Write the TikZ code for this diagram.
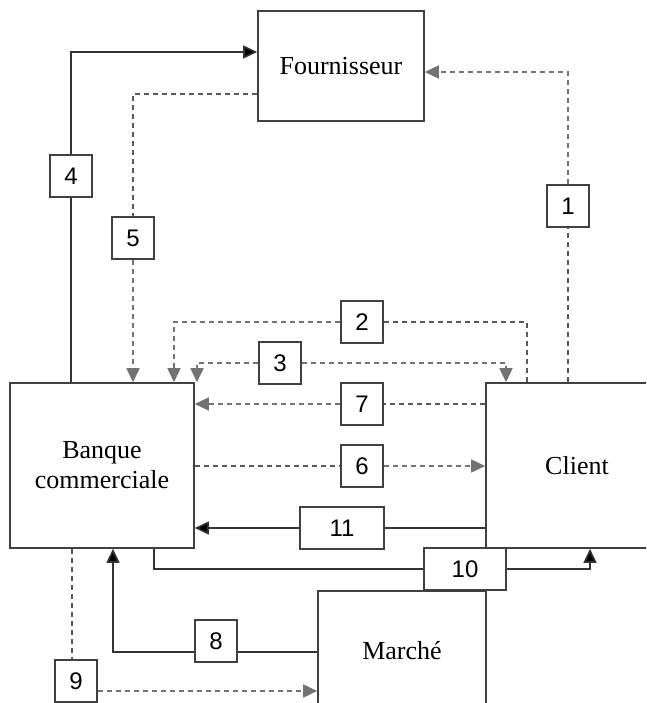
\documentclass[tikz,border=0pt]{standalone}
\usepackage{fontspec}
\setmainfont{Liberation Serif}
\newfontfamily\digitfont{Liberation Sans}
\usetikzlibrary{calc,arrows.meta}
\tikzset {>={Triangle[length=14pt,width=13pt]}}
\tikzset{
  acteur/.style={draw=black!75,line width=1.6pt,align=center,
    font=\fontsize{26}{30}\selectfont},
  numero/.style={draw=black!75,line width=1.6pt,fill=white,
    minimum width=42pt,minimum height=42pt,inner sep=0pt,
    font=\digitfont\fontsize{24}{28}\selectfont},
  sline/.style={black!80,line width=1.6pt,
    -{Triangle[length=14pt,width=13pt,fill=black]}},
  dline/.style={black!65,line width=1.6pt,dash pattern=on 5pt off 4pt},
  darrow/.style={dline,->,black!55}
}

\begin{document}
\begin{tikzpicture}[x=1pt,y=-1pt]
\useasboundingbox (0,0) rectangle (646,703);
\begin{scope}
\clip (0,0) rectangle (646,703);
\node[acteur] (four)
  [minimum width=166pt,minimum height=110pt]
  at (341,66) {Fournisseur};
\node[acteur] (banque)
  [minimum width=184pt,minimum height=165pt]
  at (102,465.5) {Banque\\commerciale};
\node[acteur] (client)
  [minimum width=182pt,minimum height=165pt]
  at (577,465.5) {Client};
\node[acteur] (marche)
  [minimum width=168pt,minimum height=120pt]
  at (402,651) {Marché};
\end{scope}
\node[numero] (n1) at (568,206) {1};
\node[numero] (n2) at (362,322) {2};
\node[numero] (n3) at (280,363) {3};
\node[numero] (n4) at (71,176) {4};
\node[numero] (n5) at (133,238) {5};
\node[numero] (n6) at (362,466) {6};
\node[numero] (n7) at (362,404) {7};
\node[numero] (n8) at (216,641) {8};
\node[numero] (n9) at (76,681) {9};
\node[numero,minimum width=82pt] (n10) at (465,569) {10};
\node[numero,minimum width=84pt] (n11) at (342,528) {11};
\coordinate (k2a) at (527,322);
\coordinate (k2b) at (174,322);
\coordinate (k3a) at (197,363);
\coordinate (k3b) at (506,363);
\coordinate (k8) at (113,652);
\coordinate (k9) at (72,691);
\coordinate (k10a) at (154,569);
\coordinate (k10b) at (590,569);
\draw[dline] (client.north -| n1) -- (n1);
\draw[darrow] (n1) |- ([yshift=-6pt]four.east);
\draw[dline] (client.north -| k2a) -- (k2a) -- (n2);
\draw[darrow] (n2) -- (k2b) -- (banque.north -| k2b);
\draw[darrow] (n3) -- (k3a) -- (banque.north -| k3a);
\draw[darrow] (n3) -- (k3b) -- (client.north -| k3b);
\draw[sline,-] (banque.north -| n4) -- (n4);
\draw[sline] (n4) |- ([yshift=14pt]four.west);
\draw[dline] ([yshift=-28pt]four.west) -| (n5);
\draw[darrow] (n5) -- (banque.north -| n5);
\draw[dline] (banque.east |- n6) -- (n6);
\draw[darrow] (n6) -- (client.west |- n6);
\draw[dline] (client.west |- n7) -- (n7);
\draw[darrow] (n7) -- (banque.east |- n7);
\draw[sline,-] (marche.west |- k8) -- (n8.east |- k8);
\draw[sline] (n8.west |- k8) -- (k8) -- (banque.south -| k8);
\draw[dline] (banque.south -| k9) -- (n9.north -| k9);
\draw[darrow] (n9.east |- k9) -- (marche.west |- k9);
\draw[sline,-] (banque.south -| k10a) -- (k10a) -- (n10);
\draw[sline] (n10) -- (k10b) -- (client.south -| k10b);
\draw[sline,-] (client.west |- n11) -- (n11);
\draw[sline] (n11) -- (banque.east |- n11);
\end{tikzpicture}
\end{document}
